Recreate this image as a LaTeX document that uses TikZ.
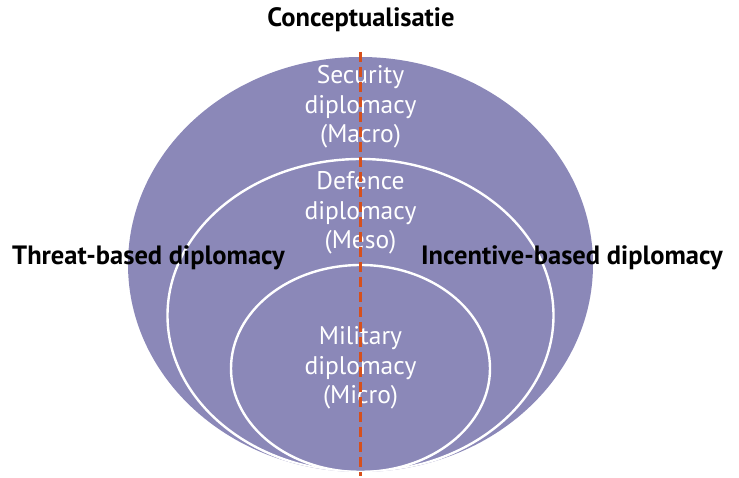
\documentclass[tikz,border=0pt]{standalone}
\usepackage{fontspec}
\setmainfont{PT Sans}
\usetikzlibrary{shapes.geometric}
\definecolor{lavender}{RGB}{139,136,184}
\definecolor{axisred}{RGB}{214,80,28}
\begin{document}
\begin{tikzpicture}[x=1pt,y=-1pt,
  ring/.style={ellipse,inner sep=0pt,outer sep=0pt},
  ringline/.style={draw=white,line width=2.4pt},
  level/.style={text=white,align=center,font=\fontsize{25.5}{29.7}\selectfont},
  side/.style={text=black,font=\bfseries\fontsize{26.5}{30}\selectfont,inner sep=0pt}]
\useasboundingbox (0,0) rectangle (739,478);
\node[ring,fill=lavender,minimum width=465pt,minimum height=415pt] (outer) at (360.5,264.5) {};
\begin{scope}
  \clip (360.5,264.5) ellipse [x radius=232.5pt, y radius=207.5pt];
  \node[ring,ringline,minimum width=386pt,minimum height=313pt] (middle) at (360.5,315.5) {};
  \node[ring,ringline,minimum width=259pt,minimum height=207pt] (inner) at (360.5,368.5) {};
\end{scope}
\node[level] (macro) at (360.5,107) {Security\\diplomacy\\(Macro)};
\node[level] (meso) at (360.5,213) {Defence\\diplomacy\\(Meso)};
\node[level] (micro) at (360.5,368) {Military\\diplomacy\\(Micro)};
\coordinate (axtop) at (360.5,52);
\coordinate (axbot) at (360.5,476);
\draw[axisred,line width=2.5pt,dash pattern=on 10pt off 5pt] (axtop) -- (axbot);
\node[side] (concept) at (361,20) {Conceptualisatie};
\node[side,anchor=west] (threat) at (12,258) {Threat-based diplomacy};
\node[side,anchor=east] (incent) at (723,258) {Incentive-based diplomacy};
\end{tikzpicture}
\end{document}
